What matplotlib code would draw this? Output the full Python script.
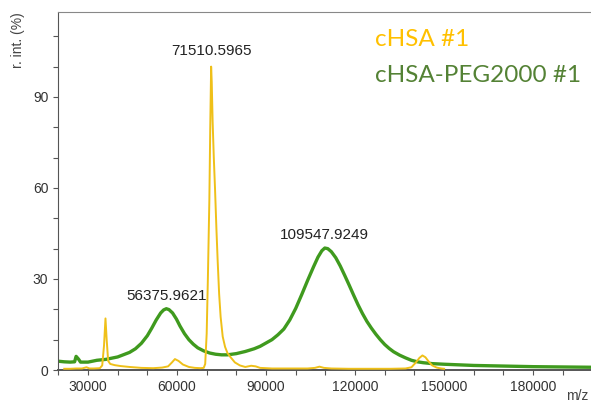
import numpy as np
import matplotlib
matplotlib.use('Agg')
import matplotlib.pyplot as plt
from matplotlib.ticker import MultipleLocator

# cHSA #1 (yellow trace), m/z vs r. int. (%)
chsa_mz = [22000, 24000, 26000, 28000, 29500, 30500, 32000, 34000, 34800, 35400,
           35900, 36300, 36800, 37500, 39000, 41000, 44000, 48000, 52000, 55000,
           57000, 58300, 59300, 60500, 62000, 64000, 66000, 68000, 69000, 69500,
           70000, 70400, 70900, 71200, 71500, 71700, 72000, 72400, 72800, 73300,
           73700, 74200, 74700, 75400, 76200, 77000, 77900, 79500, 81200, 83000,
           85000, 86500, 88000, 92000, 98000, 104000, 106500, 108000, 109500, 112000,
           118000, 125000, 132000, 137000, 139000, 140500, 141700, 142700, 143700, 144800,
           146000, 147500, 149000, 150000]
chsa_int = [0.4, 0.4, 0.5, 0.5, 0.9, 0.5, 0.5, 0.6, 1.5, 8.0,
            17.0, 10.0, 3.0, 2.0, 1.6, 1.3, 1.0, 0.7, 0.6, 0.8,
            1.2, 2.5, 3.6, 3.0, 1.8, 1.0, 0.7, 0.6, 0.7, 2.0,
            12.0, 30.0, 56.0, 80.0, 100.0, 95.0, 82.0, 70.0, 60.0, 46.0,
            36.0, 25.0, 17.5, 11.0, 7.6, 5.6, 4.4, 2.5, 1.5, 1.0,
            1.4, 1.2, 0.7, 0.5, 0.5, 0.5, 0.7, 1.1, 0.7, 0.5,
            0.4, 0.4, 0.4, 0.5, 0.9, 2.5, 4.0, 4.8, 4.2, 2.8,
            1.5, 0.8, 0.5, 0.4]

# cHSA-PEG2000 #1 (green trace)
peg_mz = [20000, 22000, 24000, 25500, 26000, 26800, 27500, 30000, 33000, 36000,
          40000, 44000, 46000, 48000, 50000, 51500, 53000, 54500, 55500, 56400,
          57300, 58500, 59800, 61000, 62500, 64000, 65500, 67000, 69000, 71000,
          73000, 75000, 77000, 80000, 83000, 86000, 88000, 90000, 92000, 94000,
          96000, 98000, 100000, 102000, 104000, 106000, 107500, 108800, 109800, 110800,
          112000, 113500, 115000, 116500, 118000, 119500, 121000, 122500, 124000, 125500,
          127000, 128500, 130000, 131500, 133000, 135000, 137000, 139000, 141000, 143000,
          146000, 150000, 160000, 170000, 180000, 190000, 200000]
peg_int = [2.9, 2.7, 2.6, 2.7, 4.5, 3.6, 2.6, 2.6, 3.2, 3.5,
           4.3, 5.8, 7.0, 8.8, 11.3, 13.8, 16.5, 18.8, 19.8, 20.2,
           19.9, 18.8, 16.8, 14.5, 12.0, 10.0, 8.5, 7.3, 6.3, 5.6,
           5.2, 5.0, 5.0, 5.4, 6.1, 7.0, 7.8, 8.9, 10.0, 11.6,
           13.5, 16.5, 20.3, 24.8, 29.5, 34.0, 37.2, 39.3, 40.2, 40.0,
           39.0, 37.0, 34.3, 31.2, 28.0, 24.7, 21.5, 18.6, 16.0, 13.8,
           11.8, 10.0, 8.4, 7.1, 6.0, 4.9, 4.0, 3.2, 2.7, 2.4,
           2.1, 1.9, 1.5, 1.3, 1.1, 1.0, 0.9]

peak_labels = ['56375.9621', '71510.5965', '109547.9249']
peak_pos = [56400, 71500, 109500]
peak_height = [20.2, 100.0, 40.2]

legend_names = ['cHSA #1', 'cHSA-PEG2000 #1']
line_colors = ['#efc019', '#3f9a1e']
text_colors = ['#ffc000', '#548235']

W, H = 591, 403
fig = plt.figure(figsize=(W / 100, H / 100), dpi=100)
ax = fig.add_axes([58 / W, 33 / H, (W - 58) / W, (370 - 12) / H])

ax.plot(peg_mz, peg_int, color=line_colors[1], lw=2.4, zorder=2)
ax.plot(chsa_mz, chsa_int, color=line_colors[0], lw=1.4, zorder=3)

offsets = [4, 6, 4]
for lab, x, y, dy in zip(peak_labels, peak_pos, peak_height, offsets):
    ax.annotate(lab, (x, y), xytext=(0, dy), textcoords='offset points',
                ha='center', va='bottom', fontsize=11, color='#222222',
                family='Liberation Sans')

ax.set_xlim(19900, 199500)
ax.set_ylim(0, 118)
ax.xaxis.set_major_locator(MultipleLocator(30000))
ax.xaxis.set_minor_locator(MultipleLocator(10000))
ax.yaxis.set_major_locator(MultipleLocator(30))
ax.yaxis.set_minor_locator(MultipleLocator(10))
ax.tick_params(which='both', direction='out', length=3.5, width=0.8,
               colors='#555555', labelcolor='#333333', labelsize=10)
for lbl in ax.get_xticklabels() + ax.get_yticklabels():
    lbl.set_family('Liberation Sans')

ax.spines['right'].set_visible(False)
ax.spines['top'].set_color('#888888')
ax.spines['left'].set_color('#555555')
ax.spines['bottom'].set_color('#555555')
ax.spines['bottom'].set_linewidth(1.4)

fig.text(18 / W, 1 - 40 / H, 'r. int. (%)', rotation=90, ha='center', va='center',
         fontsize=10, color='#444444', family='Liberation Sans')
fig.text(588 / W, 1 - 396 / H, 'm/z', ha='right', va='center',
         fontsize=10, color='#444444', family='Liberation Sans')

fig.text(375 / W, 1 - 40 / H, legend_names[0], ha='left', va='center',
         fontsize=17.5, color=text_colors[0], family='Lato')
fig.text(375 / W, 1 - 75 / H, legend_names[1], ha='left', va='center',
         fontsize=17.5, color=text_colors[1], family='Lato')

fig.savefig('out.png', dpi=100)
